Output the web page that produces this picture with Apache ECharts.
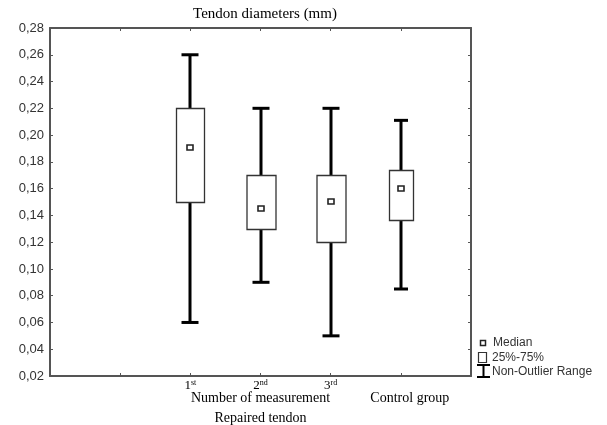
<!DOCTYPE html>
<html><head><meta charset="utf-8">
<script src="https://cdn.jsdelivr.net/npm/echarts@6/dist/echarts.min.js"></script>
<style>html,body{margin:0;padding:0;background:#fff}#c{width:607px;height:425px}</style>
</head><body><div id="c"></div>
<script>
// ---- data ----
const axisSlots = ['', '', '1st', '2nd', '3rd', 'Control group', ''];
const groups = ['1st', '2nd', '3rd', 'Control group'];
const lows    = [0.06, 0.09, 0.05, 0.085];
const q1s     = [0.15, 0.13, 0.12, 0.137];
const medians = [0.19, 0.145, 0.15, 0.16];
const q3s     = [0.22, 0.17, 0.17, 0.174];
const highs   = [0.26, 0.22, 0.22, 0.211];
const yTicks = [0.02, 0.28, 0.02]; // min, max, step

// ---- styles ----
const boxW = [28, 29, 29, 24];
const capW = [17, 17, 17, 14];

const seriesData = groups.map((g, i) => [axisSlots.indexOf(g), lows[i], q1s[i], medians[i], q3s[i], highs[i]]);

const chart = echarts.init(document.getElementById('c'));
const serif = '"Liberation Serif", "Times New Roman", serif';
const sans = '"Liberation Sans", Arial, sans-serif';
const axisCol = '#555';

function renderItem(params, api) {
  const i = params.dataIndex;
  const x = api.value(0);
  const pLow = api.coord([x, api.value(1)]);
  const pQ1 = api.coord([x, api.value(2)]);
  const pMed = api.coord([x, api.value(3)]);
  const pQ3 = api.coord([x, api.value(4)]);
  const pHigh = api.coord([x, api.value(5)]);
  const cx = Math.round(pLow[0]);
  const bw = boxW[i], cw = capW[i];
  const lineStyle = { stroke: '#000', lineWidth: 3 };
  return {
    type: 'group',
    children: [
      { type: 'line', shape: { x1: cx, y1: pHigh[1], x2: cx, y2: pLow[1] }, style: lineStyle },
      { type: 'line', shape: { x1: cx - cw / 2, y1: pHigh[1], x2: cx + cw / 2, y2: pHigh[1] }, style: lineStyle },
      { type: 'line', shape: { x1: cx - cw / 2, y1: pLow[1], x2: cx + cw / 2, y2: pLow[1] }, style: lineStyle },
      { type: 'rect', shape: { x: cx - bw / 2 + 0.5, y: Math.round(pQ3[1]) + 0.5, width: bw, height: Math.round(pQ1[1] - pQ3[1]) },
        style: { fill: '#fff', stroke: '#333', lineWidth: 1.3 } },
      { type: 'rect', shape: { x: cx - 3, y: Math.round(pMed[1]) - 3, width: 6, height: 5 },
        style: { fill: '#fff', stroke: '#222', lineWidth: 1.6 } }
    ]
  };
}

const yFmt = v => v.toFixed(2).replace('.', ',');
function xFmt(v) {
  if (v === 'Control group') return '{ctrl|Control group}';
  const m = v.match(/^(\d)(\D+)$/);
  if (m) return '{n|' + m[1] + '}{sup|' + m[2] + '}';
  return '';
}

chart.setOption({
  animation: false,
  grid: { left: 50, right: 136, top: 28, bottom: 49, containLabel: false, outerBoundsMode: 'none' },
  xAxis: [{
    type: 'category', data: axisSlots, boundaryGap: false, position: 'bottom',
    axisLine: { lineStyle: { color: axisCol, width: 2 } },
    axisTick: { inside: true, length: 3, interval: 0, lineStyle: { color: axisCol } },
    axisLabel: {
      interval: 0, margin: 3, formatter: xFmt, color: '#000',
      rich: {
        n: { fontFamily: serif, fontSize: 13, color: '#000', lineHeight: 14 },
        sup: { fontFamily: serif, fontSize: 8, color: '#000', verticalAlign: 'top', lineHeight: 14 },
        ctrl: { fontFamily: serif, fontSize: 14, color: '#000', padding: [12, 0, 0, 18] }
      }
    },
    name: 'Number of measurement\nRepaired tendon', nameLocation: 'middle', nameGap: 12, nameMoveOverlap: false,
    nameTextStyle: { fontFamily: serif, fontSize: 14, color: '#000', lineHeight: 20 },
    splitLine: { show: false }
  }, {
    type: 'category', data: axisSlots, boundaryGap: false, position: 'top',
    axisLine: { lineStyle: { color: axisCol, width: 2 } },
    axisTick: { inside: true, length: 3, interval: 0, lineStyle: { color: axisCol } },
    axisLabel: { show: false }
  }],
  yAxis: [{
    type: 'value', min: yTicks[0], max: yTicks[1], interval: yTicks[2],
    axisLine: { show: true, lineStyle: { color: axisCol, width: 2 } },
    axisTick: { show: true, inside: true, length: 3, lineStyle: { color: axisCol } },
    axisLabel: { formatter: yFmt, fontFamily: sans, fontSize: 13, color: '#333', margin: 6 },
    splitLine: { show: false }
  }, {
    type: 'value', min: yTicks[0], max: yTicks[1], interval: yTicks[2], position: 'right',
    axisLine: { show: true, lineStyle: { color: axisCol, width: 2 } },
    axisTick: { show: true, inside: true, length: 3, lineStyle: { color: axisCol } },
    axisLabel: { show: false }, splitLine: { show: false }
  }],
  series: [{
    type: 'custom', renderItem: renderItem, data: seriesData,
    encode: { x: 0, y: [1, 2, 3, 4, 5] }, clip: false
  }],
  graphic: [
    { type: 'text', position: [265, 14], style: { text: 'Tendon diameters (mm)', font: '15px ' + serif, fill: '#000', textAlign: 'center', textVerticalAlign: 'middle' } },
    // legend
    { type: 'rect', shape: { x: 480.5, y: 340.5, width: 5, height: 5 }, style: { fill: '#fff', stroke: '#222', lineWidth: 1.5 } },
    { type: 'text', position: [493, 343], style: { text: 'Median', font: '12px ' + sans, fill: '#333', textVerticalAlign: 'middle' } },
    { type: 'rect', shape: { x: 478.5, y: 352.5, width: 8, height: 10 }, style: { fill: '#fff', stroke: '#333', lineWidth: 1.2 } },
    { type: 'text', position: [492, 358], style: { text: '25%-75%', font: '12px ' + sans, fill: '#333', textVerticalAlign: 'middle' } },
    { type: 'line', shape: { x1: 477, y1: 365, x2: 490, y2: 365 }, style: { stroke: '#000', lineWidth: 2 } },
    { type: 'line', shape: { x1: 483.5, y1: 365, x2: 483.5, y2: 377 }, style: { stroke: '#000', lineWidth: 2 } },
    { type: 'line', shape: { x1: 477, y1: 377, x2: 490, y2: 377 }, style: { stroke: '#000', lineWidth: 2 } },
    { type: 'text', position: [492, 372], style: { text: 'Non-Outlier Range', font: '12px ' + sans, fill: '#333', textVerticalAlign: 'middle' } }
  ]
});
</script>
</body></html>
